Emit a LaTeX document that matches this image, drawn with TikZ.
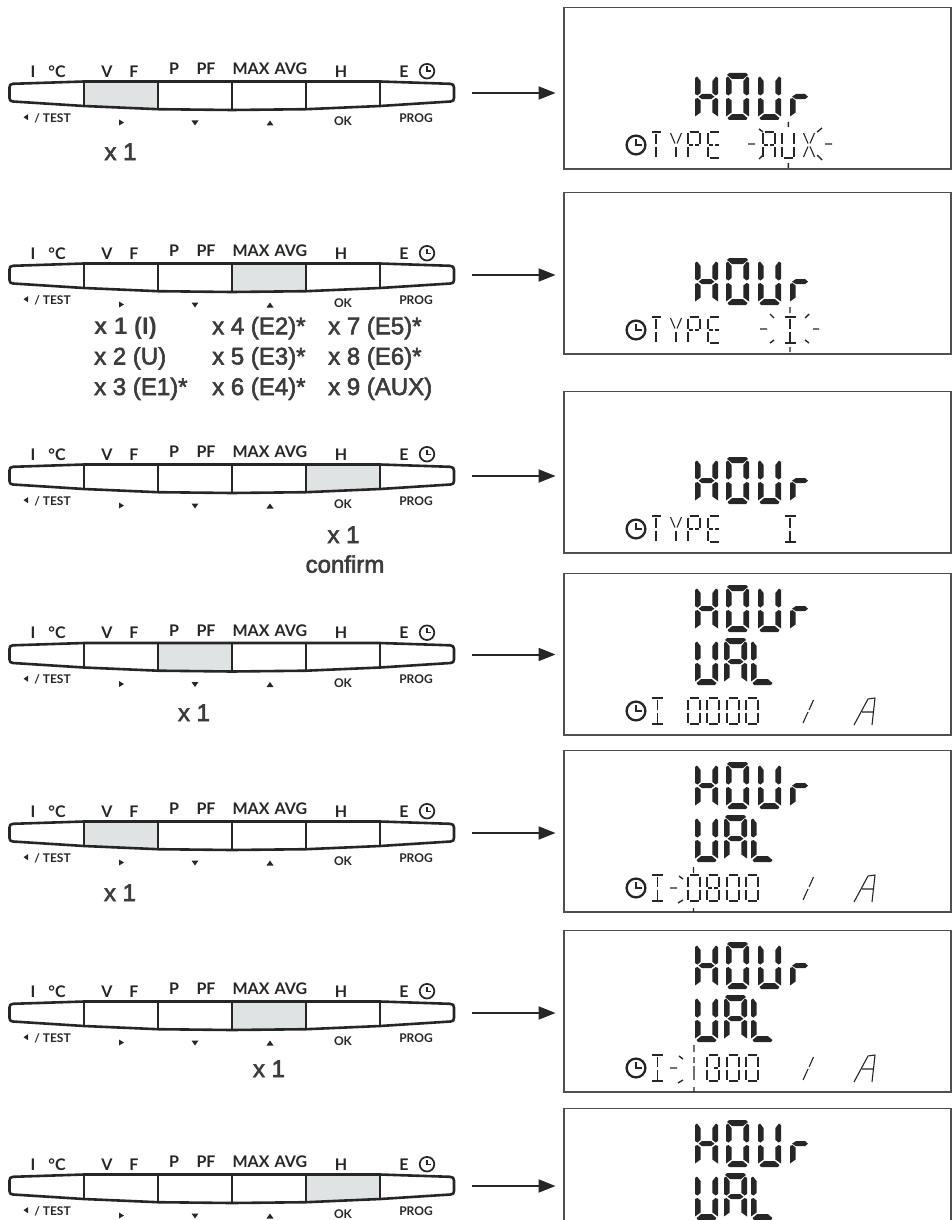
\documentclass[tikz,border=0pt]{standalone}
\usepackage{fontspec}
\usetikzlibrary{arrows.meta}
\newfontfamily\optf[Ligatures=TeX]{Lato Bold}
\newfontfamily\hvm[FakeBold=2.4]{Liberation Sans}
\newfontfamily\hvb{Liberation Sans Bold}
\definecolor{ink}{HTML}{262626}
\definecolor{keyshade}{HTML}{E0E3E3}
\definecolor{frame}{HTML}{4F4F4F}
\tikzset{
  barline/.style={draw=ink,line width=2.6pt,line join=round},
  toplab/.style={font=\optf\fontsize{16}{16}\selectfont,text=ink,inner sep=0pt,anchor=base},
  botlab/.style={font=\optf\fontsize{12}{12}\selectfont,text=ink,inner sep=0pt,anchor=base},
  presslab/.style={font=\hvm\fontsize{24}{24}\selectfont,text=ink!90,inner sep=0pt,anchor=base},
  presswest/.style={presslab,anchor=base west},
  lcdframe/.style={draw=frame,line width=1.2pt,anchor=north west,minimum width=387pt,minimum height=161.5pt,inner sep=0pt,outer sep=0pt},
  barbox/.style={minimum width=445pt,minimum height=28pt,inner sep=0pt,outer sep=0pt},
  flow/.style={draw=ink,line width=2pt,-{Triangle[length=17pt,width=13pt]},shorten <=17pt,shorten >=8.5pt},
  thinseg/.style={draw=ink,line width=1.1pt},
  heavyseg/.style={draw=ink,line width=1.6pt},
  raymark/.style={draw=ink,line width=1.4pt},
  bigseg/.style={fill=ink,draw=none},
  clockring/.style={draw=ink,line width=2.3pt},
  clockhand/.style={draw=ink,line width=1.4pt},
  smallclock/.style={draw=ink,line width=1.7pt}
}
% big seven-segment pieces
\def\bgsa{\fill[bigseg] (3,0)--(20,0)--(22,2)--(17,6)--(6,6)--(1,2)--cycle;}
\def\bgsf{\fill[bigseg] (0,5)--(2,3.5)--(5.6,8)--(5.6,20)--(2.5,22.5)--(0,21)--cycle;}
\def\bgsb{\fill[bigseg] (23,5)--(21,3.5)--(17.4,8)--(17.4,20)--(20.5,22.5)--(23,21)--cycle;}
\def\bgse{\fill[bigseg] (0,26)--(2.5,25)--(5.6,27.5)--(5.6,39.5)--(0,43.5)--cycle;}
\def\bgsc{\fill[bigseg] (23,26)--(20.5,25)--(17.4,27.5)--(17.4,39.5)--(23,43.5)--cycle;}
\def\bgsd{\fill[bigseg] (1.5,45)--(6,41.2)--(17,41.2)--(21.5,45)--(20,47)--(3,47)--cycle;}
\def\bgsg{\fill[bigseg] (3.5,23.7)--(7,21)--(16,21)--(19.5,23.7)--(16,26.2)--(7,26.2)--cycle;}
\def\bgsm{\fill[bigseg] (2,23.7)--(6,21)--(15,21)--(18,23.7)--(15,26.2)--(6,26.2)--cycle;}
\newcommand{\bigglyph}[3]{\begin{scope}[shift={(#1,#2)}]\foreach \s in {#3}{\csname bgs\s\endcsname}\end{scope}}
\newcommand{\hourword}[1]{\bigglyph{695}{#1}{b,c,e,f,g}\bigglyph{726}{#1}{a,b,c,d,e,f}\bigglyph{758}{#1}{b,c,d,e,f}\bigglyph{790}{#1}{e,m}}
\newcommand{\valword}[1]{\bigglyph{695}{#1}{b,c,d,e,f}\bigglyph{724}{#1}{a,b,c,e,f,g}\bigglyph{751}{#1}{d,e,f}}
% thin small segments (12 x 26)
\def\sgsa{\draw[thinseg] (1.5,0)--(10.5,0);}
\def\sgsd{\draw[thinseg] (1.5,26)--(10.5,26);}
\def\sgsf{\draw[thinseg] (0,1.5)--(0,11.5);}
\def\sgse{\draw[thinseg] (0,14.5)--(0,24.5);}
\def\sgsb{\draw[thinseg] (12,1.5)--(12,11.5);}
\def\sgsc{\draw[thinseg] (12,14.5)--(12,24.5);}
\def\sgsh{\draw[thinseg] (1,13)--(5,13);}
\def\sgsk{\draw[thinseg] (7,13)--(11,13);}
\def\sgsi{\draw[thinseg] (6,2)--(6,11.5);}
\def\sgsj{\draw[thinseg] (6,14.5)--(6,25);}
\def\sgsp{\draw[thinseg] (.5,1)--(5,11.5);}
\def\sgsq{\draw[thinseg] (11.5,1)--(7,11.5);}
\def\sgsr{\draw[thinseg] (5,14.5)--(.5,25);}
\def\sgss{\draw[thinseg] (7,14.5)--(11.5,25);}
\newcommand{\thinglyph}[2]{\begin{scope}[shift={(#1,-37)}]\foreach \s in {#2}{\csname sgs\s\endcsname}\end{scope}}
\newcommand{\romanI}[1]{\begin{scope}[shift={(#1,-37)}]\draw[heavyseg] (0,0)--(11,0) (0,26)--(11,26);\draw[thinseg] (5.5,1.5)--(5.5,11.5) (5.5,14.5)--(5.5,24.5);\end{scope}}
\newcommand{\clockicon}{\draw[clockring] (636,-24) circle (9.4);\draw[clockhand] (636,-30)--(636,-24)--(641.5,-24);}
\newcommand{\typeword}{\clockicon\thinglyph{650}{a,i,j}\thinglyph{670}{p,q,j}\thinglyph{688}{a,f,b,e,h,k}\thinglyph{708}{a,f,e,d,h,k}}
\newcommand{\valueline}{\draw[thinseg] (803,-12)--(808,-23) (809,-25)--(813.5,-35);\draw[thinseg,line join=round] (854,-10)--(868,-36)--(875,-37)--(872,-10) (862,-23)--(873,-23);}
% keypad bar: id, centre y, shaded x1,y1,x2,y2
\newcommand{\keybar}[6]{%
\node[barbox] (#1) at (232,#2-2.5) {};
\begin{scope}[shift={(0,#2)}]
\fill[keyshade] (#3,-14)--(#5,-14)--(#5,#6)--(#3,#4)--cycle;
\draw[barline] (13,-11.7)--(84,-14)--(380,-14)--(450,-11.7)..controls (453,-11.5) and (454,-10.5) .. (454,-8)--(454,2.5)..controls (454,5) and (453,5.8) .. (450.5,6)--(380,10.5)--(306,13.7)--(232,14.5)--(158,13.7)--(84,10.5)--(13,6)..controls (10.5,5.8) and (9.5,5) .. (9.5,2.5)--(9.5,-8)..controls (9.5,-10.5) and (10.5,-11.5) .. (13,-11.7)--cycle;
\draw[barline] (84,-14)--(84,10.5) (158,-14)--(158,13.7) (232,-14)--(232,14.5) (306,-14)--(306,13.7) (380,-14)--(380,10.5);
\node[toplab] (#1-i) at (33,-18.3) {I};
\node[toplab] (#1-c) at (57,-18.3) {°C};
\node[toplab] (#1-v) at (107,-18.3) {V};
\node[toplab] (#1-f) at (134,-18.3) {F};
\node[toplab] (#1-p) at (174,-21) {P};
\node[toplab] (#1-pf) at (206,-21) {PF};
\node[toplab] (#1-max) at (251,-21) {MAX};
\node[toplab] (#1-avg) at (291,-21) {AVG};
\node[toplab] (#1-h) at (341,-18.3) {H};
\node[toplab] (#1-e) at (404,-18.3) {E};
\draw[smallclock] (427,-24.3) circle (7.3);
\draw[clockhand] (427,-29)--(427,-24.3)--(431,-24.3);
\fill[ink] (28,18.7)--(23.5,21.7)--(28,24.7)--cycle;
\node[botlab] (#1-test) at (52.5,26.7) {/ TEST};
\fill[ink] (119,24)--(124,27)--(119,30)--cycle;
\fill[ink] (191.5,25)--(198.5,25)--(195,30)--cycle;
\fill[ink] (266.5,30)--(273.5,30)--(270,25)--cycle;
\node[botlab] (#1-ok) at (343,30) {OK};
\node[botlab] (#1-prog) at (416,26.7) {PROG};
\end{scope}}
\newcommand{\lcdbox}[2]{\node[lcdframe] (#1) at (564,#2) {};}
\begin{document}
\begin{tikzpicture}[x=1pt,y=-1pt]
\useasboundingbox (0,0) rectangle (952,1220);
\clip (0,0) rectangle (952,1220);
% keypads
\keybar{barA}{95.5}{84}{10.5}{158}{13.7}
\keybar{barB}{277.5}{232}{14.5}{306}{13.7}
\keybar{barC}{478.5}{306}{13.7}{380}{10.5}
\keybar{barD}{657}{158}{13.7}{232}{14.5}
\keybar{barE}{835.5}{84}{10.5}{158}{13.7}
\keybar{barF}{1015.5}{232}{14.5}{306}{13.7}
\keybar{barG}{1188.5}{306}{13.7}{380}{10.5}
% displays
\lcdbox{lcdA}{7.5}
\lcdbox{lcdB}{192.5}
\lcdbox{lcdC}{391.5}
\lcdbox{lcdD}{573.5}
\lcdbox{lcdE}{750.5}
\lcdbox{lcdF}{930.5}
\lcdbox{lcdG}{1108.5}
% connectors
\foreach \n in {A,B,C,D,E,F,G}{\draw[flow] (bar\n.east) -- (bar\n.east -| lcd\n.west);}
% press labels
\node[presslab] (pA) at (120.5,160) {x 1};
\node[presswest,font=\hvb\fontsize{24}{24}\selectfont] (pB1) at (94,334.3) {x 1 (I)};
\node[presswest] (pB2) at (94,364.5) {x 2 (U)};
\node[presswest] (pB3) at (94,395) {x 3 (E1)*};
\node[presswest] (pB4) at (212,334.3) {x 4 (E2)*};
\node[presswest] (pB5) at (212,364.5) {x 5 (E3)*};
\node[presswest] (pB6) at (212,395) {x 6 (E4)*};
\node[presswest] (pB7) at (328,334.3) {x 7 (E5)*};
\node[presswest] (pB8) at (328,364.5) {x 8 (E6)*};
\node[presswest] (pB9) at (328,395) {x 9 (AUX)};
\node[presslab] (pC1) at (343.5,543) {x 1};
\node[presslab] (pC2) at (345,572.7) {confirm};
\node[presslab] (pD) at (194,721) {x 1};
\node[presslab] (pE) at (120,901) {x 1};
\node[presslab] (pF) at (269,1077) {x 1};
% display A
\hourword{73}
\begin{scope}[shift={(0,169)}]
\typeword
\thinglyph{763}{a,f,b,e,c,h,k}\thinglyph{782}{b,c,d,e,f}\thinglyph{803}{p,q,r,s}
\draw[raymark] (788.3,-47)--(788.3,-42) (788.3,-6)--(788.3,-1) (748,-25)--(755,-25) (825,-25)--(832,-25)
 (759,-40)--(763,-37) (759,-10)--(763,-14) (817,-37)--(822,-41) (817,-14)--(822,-9);
\end{scope}
% display B
\hourword{258}
\begin{scope}[shift={(0,354)}]
\typeword
\romanI{784.5}
\draw[raymark] (790,-47)--(790,-41) (790,-7)--(790,-2) (760,-25)--(767,-25) (813,-25)--(819,-25)
 (770,-40)--(774,-36) (770,-11)--(774,-14) (809,-40)--(805,-36) (809,-11)--(805,-14);
\end{scope}
% display C
\hourword{457}
\begin{scope}[shift={(0,553)}]
\typeword
\romanI{784.5}
\end{scope}
% display D
\hourword{585}
\valword{638}
\begin{scope}[shift={(0,735)}]
\clockicon\romanI{652}
\thinglyph{688}{a,b,c,d,e,f}\thinglyph{707}{a,b,c,d,e,f}\thinglyph{727}{a,b,c,d,e,f}\thinglyph{746}{a,b,c,d,e,f}
\valueline
\end{scope}
% display E
\hourword{762}
\valword{815}
\begin{scope}[shift={(0,912)}]
\clockicon\romanI{652}
\thinglyph{688}{a,b,c,d,e,f}\thinglyph{707}{a,b,c,d,e,f,h,k}\thinglyph{727}{a,b,c,d,e,f}\thinglyph{746}{a,b,c,d,e,f}
\valueline
\draw[raymark] (693.5,-45)--(693.5,-39) (693.5,-4)--(693.5,0) (670,-24)--(677,-24)
 (679,-36)--(683,-33) (678,-9)--(683,-12);
\end{scope}
% display F
\hourword{942}
\valword{995}
\begin{scope}[shift={(0,1092)}]
\clockicon\romanI{652}
\thinglyph{707}{a,b,c,d,e,f,k}\thinglyph{727}{a,b,c,d,e,f}\thinglyph{746}{a,b,c,d,e,f}
\valueline
\draw[raymark] (694,-47)--(694,-40) (694,-35)--(694,-29) (694,-26)--(694,-12) (694,-5)--(694,0) (670,-24)--(677,-24)
 (679,-36)--(683,-33) (678,-9)--(683,-12);
\end{scope}
% display G (runs off the page)
\hourword{1120}
\valword{1173}
\end{tikzpicture}
\end{document}
